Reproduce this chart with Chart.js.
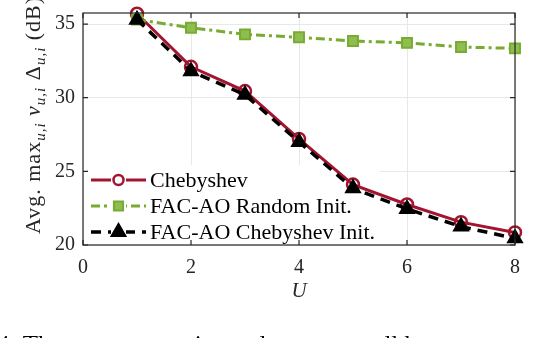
<!DOCTYPE html>
<html>
<head>
<meta charset="utf-8">
<script src="https://cdn.jsdelivr.net/npm/chart.js@4/dist/chart.umd.min.js"></script>
<style>
  html, body { margin: 0; padding: 0; background: #fff; }
  #wrap { width: 556px; height: 338px; position: relative; }
</style>
</head>
<body>
<div id="wrap"><canvas id="myChart" width="556" height="338"></canvas></div>
<script>
// dados
var uValues = [1, 2, 3, 4, 5, 6, 7, 8];
var chebyshev = [35.7, 32.1, 30.45, 27.2, 24.1, 22.75, 21.55, 20.85];
var facRandom = [35.3, 34.75, 34.3, 34.1, 33.85, 33.72, 33.44, 33.35];
var facCheb = [35.3, 31.8, 30.2, 27.0, 23.85, 22.45, 21.25, 20.45];
var xTicks = [0, 2, 4, 6, 8];
var yTicks = [20, 25, 30, 35];
var legendLabels = ['Chebyshev', 'FAC-AO Random Init.', 'FAC-AO Chebyshev Init.'];

var serif = "'Liberation Serif', 'Times New Roman', serif";
var axisColor = '#262626';

function pts(ys) {
    return uValues.map(function (u, i) { return { x: u, y: ys[i] }; });
}

function noPad(s) {
    s.paddingTop = 0; s.paddingBottom = 0;
    s.paddingLeft = 0; s.paddingRight = 0;
}

// desenha a caixa, os ticks internos, a legenda e os textos
var extras = {
    id: 'extras',
    beforeDatasetsDraw: function (chart) {
        // fundo branco da legenda (fica por baixo das linhas)
        var a = chart.chartArea;
        chart.ctx.save();
        chart.ctx.fillStyle = '#fff';
        chart.ctx.fillRect(a.left + 1, a.bottom - 80, 296, 79);
        chart.ctx.restore();
    },
    afterDatasetsDraw: function (chart) {
        var ctx = chart.ctx;
        var a = chart.chartArea;
        var xs = chart.scales.x, ys = chart.scales.y;
        ctx.save();
        // caixa
        ctx.strokeStyle = axisColor;
        ctx.lineWidth = 1.2;
        ctx.strokeRect(a.left, a.top, a.right - a.left, a.bottom - a.top);
        // ticks para dentro
        ctx.beginPath();
        xTicks.forEach(function (v) {
            var px = xs.getPixelForValue(v);
            ctx.moveTo(px, a.top); ctx.lineTo(px, a.top + 5);
            ctx.moveTo(px, a.bottom); ctx.lineTo(px, a.bottom - 5);
        });
        yTicks.forEach(function (v) {
            var py = ys.getPixelForValue(v);
            ctx.moveTo(a.left, py); ctx.lineTo(a.left + 5, py);
            ctx.moveTo(a.right, py); ctx.lineTo(a.right - 5, py);
        });
        ctx.stroke();

        // legenda
        var rowY = [a.bottom - 65, a.bottom - 39, a.bottom - 13];
        chart.data.datasets.forEach(function (ds, i) {
            var y = rowY[i];
            ctx.save();
            ctx.strokeStyle = ds.borderColor;
            ctx.lineWidth = ds.borderWidth;
            ctx.setLineDash(ds.borderDash || []);
            ctx.beginPath();
            ctx.moveTo(a.left + 8, y);
            ctx.lineTo(a.left + 63, y);
            ctx.stroke();
            ctx.setLineDash([]);
            ctx.fillStyle = '#fff';
            ctx.fillRect(a.left + 28, y - 7, 15, 14);
            ctx.fillStyle = ds.pointBackgroundColor;
            ctx.strokeStyle = ds.pointBorderColor;
            ctx.lineWidth = ds.pointBorderWidth;
            Chart.helpers.drawPoint(ctx, {
                pointStyle: ds.pointStyle,
                radius: ds.legendRadius,
                borderWidth: ds.pointBorderWidth,
                rotation: 0
            }, a.left + 35.5, y);
            ctx.restore();
            ctx.fillStyle = '#000';
            ctx.font = '22px ' + serif;
            ctx.textBaseline = 'middle';
            ctx.textAlign = 'left';
            ctx.fillText(legendLabels[i], a.left + 67, y + 1);
        });

        // titulo do eixo x
        ctx.fillStyle = axisColor;
        ctx.font = 'italic 21px ' + serif;
        ctx.textAlign = 'center';
        ctx.textBaseline = 'alphabetic';
        ctx.fillText('U', (a.left + a.right) / 2, 297);

        // titulo do eixo y com subscritos
        var big = '22px ' + serif, bigI = 'italic 22px ' + serif, sub = 'italic 15px ' + serif;
        var parts = [
            { t: 'Avg. max', f: big, dy: 0 },
            { t: 'u,i', f: sub, dy: 5 },
            { t: ' ', f: big, dy: 0 },
            { t: 'v', f: bigI, dy: 0 },
            { t: 'u,i', f: sub, dy: 5 },
            { t: ' \u0394', f: big, dy: 0 },
            { t: 'u,i', f: sub, dy: 5 },
            { t: ' (dB)', f: big, dy: 0 }
        ];
        ctx.save();
        ctx.translate(40, 234);
        ctx.rotate(-Math.PI / 2);
        ctx.textAlign = 'left';
        ctx.letterSpacing = '1px';
        var cx = 0;
        parts.forEach(function (p) {
            ctx.font = p.f;
            ctx.fillText(p.t, cx, p.dy);
            cx += ctx.measureText(p.t).width;
        });
        ctx.restore();

        // legenda da figura (cortada)
        ctx.fillStyle = '#000';
        ctx.font = '25px ' + serif;
        ctx.textAlign = 'left';
        ctx.textBaseline = 'alphabetic';
        ctx.fillText('4: The average maximum loss across all heterogeneous', -3, 353);
        ctx.restore();
    }
};

var myChart = new Chart(document.getElementById('myChart').getContext('2d'), {
    type: 'line',
    data: {
        datasets: [{
            label: legendLabels[0],
            data: pts(chebyshev),
            borderColor: '#A2142F',
            borderWidth: 3,
            pointStyle: 'circle',
            pointRadius: 6,
            legendRadius: 5,
            pointBorderWidth: 2.5,
            pointBorderColor: '#A2142F',
            pointBackgroundColor: 'rgba(255,255,255,0)',
            order: 3
        }, {
            label: legendLabels[1],
            data: pts(facRandom),
            borderColor: '#77AC30',
            borderWidth: 3,
            borderDash: [9, 4, 3, 4],
            pointStyle: 'rect',
            pointRadius: 7,
            legendRadius: 6.5,
            pointBorderWidth: 2,
            pointBorderColor: '#77AC30',
            pointBackgroundColor: '#8fbd52',
            order: 2
        }, {
            label: legendLabels[2],
            data: pts(facCheb),
            borderColor: '#000',
            borderWidth: 3.5,
            borderDash: [10, 7],
            pointStyle: 'triangle',
            pointRadius: 8,
            legendRadius: 8,
            pointBorderWidth: 2,
            pointBorderColor: '#000',
            pointBackgroundColor: '#000',
            order: 1
        }]
    },
    options: {
        responsive: false,
        animation: false,
        layout: { padding: { top: 13, right: 41, left: 0, bottom: 0 } },
        plugins: {
            legend: { display: false },
            tooltip: { enabled: false },
            title: { display: false }
        },
        elements: { line: { tension: 0, fill: false } },
        datasets: { line: { clip: false } },
        scales: {
            x: {
                type: 'linear',
                min: 0,
                max: 8,
                afterBuildTicks: function (s) { s.ticks = xTicks.map(function (v) { return { value: v }; }); },
                afterFit: function (s) { s.height = 93; noPad(s); },
                ticks: { font: { family: serif, size: 20 }, color: axisColor, padding: 11, maxRotation: 0 },
                grid: { color: '#e8e8e8', lineWidth: 1, drawTicks: false },
                border: { display: false }
            },
            y: {
                type: 'linear',
                min: 20,
                max: 35.75,
                afterBuildTicks: function (s) { s.ticks = yTicks.map(function (v) { return { value: v }; }); },
                afterFit: function (s) { s.width = 83; noPad(s); },
                ticks: { font: { family: serif, size: 20 }, color: axisColor, padding: 8 },
                grid: { color: '#e8e8e8', lineWidth: 1, drawTicks: false },
                border: { display: false }
            }
        }
    },
    plugins: [extras]
});
</script>
</body>
</html>
